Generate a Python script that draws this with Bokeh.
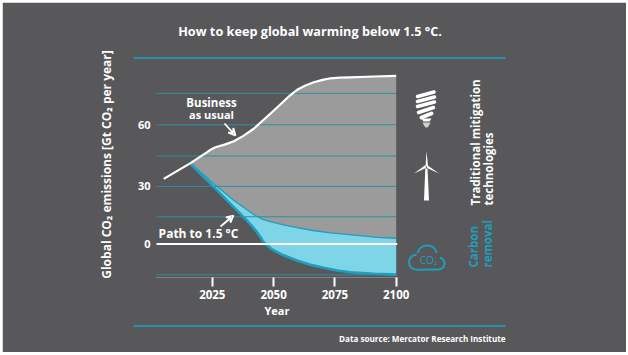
from bokeh.plotting import figure
from bokeh.models import FixedTicker, Arrow, VeeHead
from bokeh.core.properties import value
from bokeh.embed import file_html
from bokeh.resources import INLINE

BG = "#58585a"; TEAL = "#2a8fa8"; EDGE = "#1f9fbd"; CYAN = "#7fd5e8"; GREY = "#9b9b9b"; WHITE = "#ffffff"
FONT = "Open Sans"

bau_years = [2005.2, 2016.1, 2022.9, 2024.5, 2026.3, 2030, 2033.8, 2037.5, 2041.9, 2050.1, 2056, 2059.6, 2063, 2066.4, 2070, 2073.2, 2077, 2081.4, 2090.9, 2100]
bau_values = [32.8, 40.7, 46.2, 47.6, 48.7, 50.0, 51.7, 54.3, 58.0, 67.2, 74.0, 77.6, 79.8, 81.4, 82.6, 83.4, 83.7, 83.9, 84.3, 84.6]
mit_years = [2016.1, 2025.6, 2033.8, 2041.9, 2045, 2048.7, 2054, 2059.6, 2066, 2073.2, 2084.1, 2092.3, 2100]
mit_values = [40.7, 30.3, 21.9, 14.8, 12.7, 11.3, 9.6, 8.2, 6.8, 5.6, 4.3, 3.3, 2.9]
path_years = [2016.1, 2023.6, 2027, 2032.4, 2036, 2039.2, 2041.3, 2043.3, 2046, 2049, 2051.5, 2054, 2059.6, 2065, 2070.5, 2076, 2081.4, 2090.9, 2100]
path_values = [40.4, 31.1, 27.0, 20.2, 15.8, 11.8, 8.9, 5.9, 0.9, -2.4, -4.1, -5.7, -8.3, -10.4, -12, -13.3, -14.2, -15, -15.4]
grid_values = [75.8, 60, 44.3, 29, 13.7, -15.5]
x_ticks = [2025, 2050, 2075, 2100]
y_ticks = {60: "60", 29: "30", 0: "0"}

# absolute picture pixel -> data
def X(px): return 2100 + (px - 395.7) / 2.452
def Y(py): return (243.5 - py) / 1.987

p = figure(width=624, height=350, output_backend="svg", toolbar_location=None,
           x_range=(X(155), X(398)), y_range=(Y(277), Y(70)),
           min_border_left=153, min_border_right=228, min_border_top=68, min_border_bottom=75,
           background_fill_color=BG, border_fill_color=BG, outline_line_color=None)
p.margin = (2, 0, 0, 2)
p.xgrid.visible = False
p.ygrid.visible = False

# grey wedge: top follows BAU, lower follows mitigation curve
start = bau_years.index(2016.1)
gx = bau_years[start:] + mit_years[::-1]
gy = bau_values[start:] + mit_values[::-1]
p.patch(gx, gy, fill_color=GREY, line_color=None)
cx = mit_years + path_years[::-1]
cy = mit_values + path_values[::-1]
p.patch(cx, cy, fill_color=CYAN, line_color=None)

p.segment([X(155)] * len(grid_values), grid_values, [2100] * len(grid_values), grid_values, line_color=TEAL, line_width=1)
p.line(mit_years, mit_values, line_color=EDGE, line_width=1.3, line_join="round")
p.line(path_years, path_values, line_color=EDGE, line_width=2.6, line_join="round")
p.segment([X(155)], [0], [X(397)], [0], line_color=WHITE, line_width=2)
p.line(bau_years, bau_values, line_color=WHITE, line_width=2.2, line_join="round")

# axes
ax = p.xaxis[0]
ax.ticker = FixedTicker(ticks=x_ticks)
ax.axis_line_color = None
ax.major_tick_in = 0; ax.major_tick_out = 9; ax.minor_tick_line_color = None
ax.major_tick_line_color = WHITE; ax.major_tick_line_width = 2
ax.major_label_text_color = WHITE; ax.major_label_text_font = FONT
ax.major_label_text_font_style = "bold"; ax.major_label_text_font_size = "11.5px"
ax.major_label_standoff = 3
ax.axis_label = "Year"; ax.axis_label_text_color = WHITE; ax.axis_label_text_font = FONT
ax.axis_label_text_font_style = "bold"; ax.axis_label_text_font_size = "11px"; ax.axis_label_standoff = 1

ay = p.yaxis[0]
ay.ticker = FixedTicker(ticks=list(y_ticks))
ay.major_label_overrides = y_ticks
ay.axis_line_color = None; ay.major_tick_line_color = None; ay.minor_tick_line_color = None
ay.major_tick_in = 0; ay.major_tick_out = 0
ay.major_label_text_color = WHITE; ay.major_label_text_font = FONT
ay.major_label_text_font_style = "bold"; ay.major_label_text_font_size = "11px"
ay.major_label_standoff = 5

# mask the seam around the plot frame
p.multi_line([[X(155), X(398)], [X(155), X(155)], [X(398), X(398)]], [[Y(70), Y(70)], [Y(70), Y(277)], [Y(70), Y(277)]],
             line_color=BG, line_width=2, level="overlay")

def lab(text, px, py, size, color=WHITE, align="center", angle=0, style="bold"):
    p.text(x=[X(px)], y=[Y(py)], text=[text], text_color=color, text_font=value(FONT), text_font_size=f"{size}px",
           text_font_style=style, text_align=align, text_baseline="middle", angle=angle,
           angle_units="deg", level="overlay")

lab("How to keep global warming below 1.5 \u00b0C.", 309.5, 30, 12.7)
lab("Global CO\u2082 emissions [Gt CO\u2082 per year]", 106, 164, 12, angle=90)
lab("Business", 211, 102, 11.5)
lab("as usual", 211, 114, 11)
lab("Path to 1.5 \u00b0C", 198, 233, 12)
lab("Data source: Mercator Research Institute", 505, 338, 8.1, align="right")
lab("Traditional mitigation", 475, 205, 11.5, align="left", angle=90)
lab("technologies", 487.5, 205, 11.5, align="left", angle=90)
lab("Carbon", 473, 267, 11.5, color=EDGE, align="left", angle=90)
lab("removal", 487, 267, 11.5, color=EDGE, align="left", angle=90)
lab("CO\u2082", 428, 259, 10, color=EDGE, style="normal")

# rules above and below the chart
p.segment([X(133), X(133)], [Y(57.5), Y(325.5)], [X(505), X(505)], [Y(57.5), Y(325.5)],
          line_color=TEAL, line_width=2, level="overlay")

# annotation arrows
for a, b, c, d in [(224, 123, 235, 135), (220, 226, 233, 215)]:
    p.add_layout(Arrow(x_start=X(a), y_start=Y(b), x_end=X(c), y_end=Y(d), line_color=WHITE, line_width=1.8,
                       end=VeeHead(size=7, line_color=WHITE, line_width=1.8), level="overlay"))

# light bulb icon
for a, b, c, d, w in [(417, 96, 433.5, 91.5, 3.5), (417, 101, 434, 96.5, 3.5), (417, 106, 434, 101.5, 3.5),
                      (418, 112, 433, 107, 3.5), (421, 117, 431, 113, 4)]:
    p.line([X(a), X(c)], [Y(b), Y(d)], line_color=WHITE, line_width=w, line_cap="round", level="overlay")
p.patch([X(v) for v in (421, 431, 429, 423)], [Y(v) for v in (118, 118, 121, 121)], fill_color=WHITE, line_color=None, level="overlay")
p.patch([X(v) for v in (422, 430, 428.5, 427, 425, 423.5)], [Y(v) for v in (122, 122, 125, 127, 127, 125)],
        fill_color="#cfcfcf", line_color=None, level="overlay")

# wind turbine icon
p.patch([X(v) for v in (424.8, 427, 428.5, 423.5)], [Y(v) for v in (168, 168, 200, 200)], fill_color=WHITE, line_color=None, level="overlay")
p.patch([X(v) for v in (426, 427.6, 425)], [Y(v) for v in (151, 166, 166)], fill_color=WHITE, line_color=None, level="overlay")
p.patch([X(v) for v in (413.5, 425, 425.5)], [Y(v) for v in (173, 164.5, 167.5)], fill_color=WHITE, line_color=None, level="overlay")
p.patch([X(v) for v in (438.5, 426.5, 426.5)], [Y(v) for v in (173, 164.5, 167.5)], fill_color=WHITE, line_color=None, level="overlay")

# cloud icon
for xc, yc, r, s, e in [(416, 261.7, 7.5, 90, 270), (426.7, 255, 10, 15, 165), (438, 263, 6, -90, 75)]:
    p.arc([X(xc)], [Y(yc)], radius=r, radius_units="screen", start_angle=s, end_angle=e,
          start_angle_units="deg", end_angle_units="deg", line_color=EDGE, line_width=2, level="overlay")
p.line([X(416), X(438)], [Y(269.2), Y(269)], line_color=EDGE, line_width=2, level="overlay")

open("out.html", "w").write(file_html(p, INLINE))
